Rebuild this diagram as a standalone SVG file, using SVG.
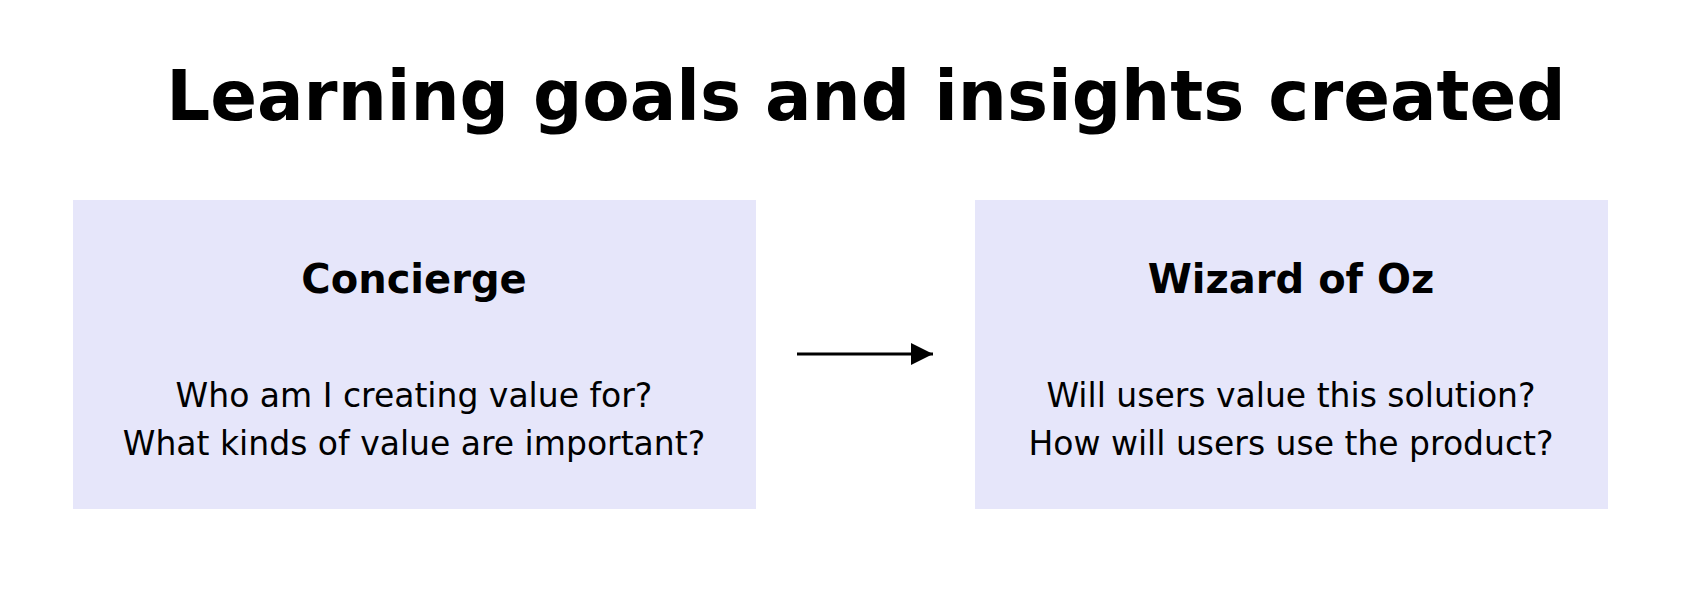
<svg xmlns="http://www.w3.org/2000/svg" width="1686" height="598" viewBox="0 0 1686 598">
<style>
.box{fill:#e6e6fa}
.t{font-family:"DejaVu Sans","Liberation Sans",sans-serif;text-anchor:middle;fill:#000}
.title{font-size:69px;font-weight:bold}
.h{font-size:40px;font-weight:bold}
.b{font-size:33px}
</style>
<defs><marker id="ah" markerWidth="22" markerHeight="22" refX="22" refY="11" orient="auto" markerUnits="userSpaceOnUse"><path d="M0,0 L22,11 L0,22 z" fill="#000"/></marker></defs>
<rect width="1686" height="598" fill="#fff"/>
<text class="t title" x="866" y="120">Learning goals and insights created</text>
<g id="concierge">
<rect class="box" x="73" y="200" width="683" height="309"/>
<text class="t h" x="414" y="293">Concierge</text>
<text class="t b" x="414" y="407">Who am I creating value for?</text>
<text class="t b" x="414" y="455">What kinds of value are important?</text>
</g>
<g id="wizard">
<rect class="box" x="975" y="200" width="633" height="309"/>
<text class="t h" x="1291" y="293">Wizard of Oz</text>
<text class="t b" x="1291" y="407">Will users value this solution?</text>
<text class="t b" x="1291" y="455">How will users use the product?</text>
</g>
<g id="connectors">
<line x1="797" y1="354" x2="933" y2="354" stroke="#000" stroke-width="3" marker-end="url(#ah)"/>
</g>
</svg>
